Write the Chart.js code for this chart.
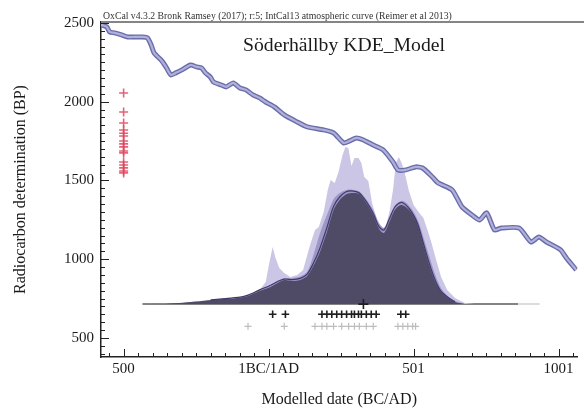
<!DOCTYPE html>
<html><head><meta charset="utf-8">
<script src="https://cdn.jsdelivr.net/npm/chart.js@4.4.1/dist/chart.umd.min.js"></script>
<style>html,body{margin:0;padding:0;background:#fff;}#wrap{width:584px;height:409px;position:relative;}</style>
</head><body><div id="wrap"><canvas id="c" width="584" height="409"></canvas></div>
<script>
// ---- data ----
const headerText = 'OxCal v4.3.2 Bronk Ramsey (2017); r:5; IntCal13 atmospheric curve (Reimer et al 2013)';
const titleText = 'Söderhällby KDE_Model';
const xTickValues = [-500, 0, 500, 1000];
const xTickLabels = ['500', '1BC/1AD', '501', '1001'];
const yTickValues = [500, 1000, 1500, 2000, 2500];
const yTickLabels = ['500', '1000', '1500', '2000', '2500'];

// IntCal13 calibration curve (calendar year, BP)
const calYears = [-578,-575,-558,-548,-531,-507,-486,-463,-435,-418,-405,-395,-371,-354,-337,-320,-299,-269,-248,-231,-218,-201,-190,-163,-146,-122,-99,-78,-54,-31,-10,20,54,99,133,190,224,259,279,303,327,361,395,429,446,473,507,531,565,585,633,667,701,728,752,779,803,864,905,932,959,1007,1027,1061];
const calBP =    [2500,2487,2475,2443,2437,2424,2411,2411,2411,2405,2360,2310,2265,2221,2170,2183,2202,2233,2221,2214,2183,2157,2125,2106,2094,2119,2087,2075,2043,2024,1998,1967,1916,1871,1840,1821,1802,1738,1751,1770,1757,1725,1694,1617,1567,1567,1586,1579,1522,1484,1440,1332,1281,1249,1294,1186,1198,1198,1109,1141,1109,1059,1008,932];

// Summed (unmodelled) probability, light
const lightYears = [-429,-241,-139,-71,-31,-10,3,14,24,37,54,75,99,119,143,160,173,190,204,214,228,241,255,265,275,286,296,310,320,330,344,357,374,391,405,418,429,439,449,459,469,483,500,520,534,548,561,575,595,616,643,677,711];
const lightBP =    [715,722,741,767,805,855,982,1078,1008,944,912,887,900,932,1090,1186,1205,1300,1440,1503,1484,1554,1662,1713,1706,1592,1643,1643,1611,1522,1497,1357,1249,1186,1211,1313,1440,1611,1649,1611,1554,1440,1344,1294,1262,1186,1109,1014,887,805,754,722,715];

// intermediate envelope
const medYears = [-300,-139,-71,-31,7,31,54,82,109,133,150,165,180,201,224,245,269,293,313,337,361,381,398,415,435,456,473,493,514,534,554,575,595,619,643,677];
const medBP =    [715,745,770,808,835,860,880,880,890,920,1000,1090,1180,1280,1380,1420,1440,1440,1430,1380,1310,1230,1200,1260,1340,1370,1360,1320,1250,1140,1020,900,815,765,735,716];

// KDE model distribution, dark
const darkYears = [-412,-310,-197,-139,-105,-71,-31,7,31,54,82,109,133,156,177,201,224,245,269,293,313,337,361,381,398,415,435,456,473,493,514,534,554,575,595,619,643,677];
const darkBP =    [715,722,741,750,754,767,798,824,849,868,862,868,893,963,1046,1173,1313,1376,1414,1420,1414,1357,1281,1192,1167,1230,1313,1344,1332,1294,1217,1090,963,855,792,754,728,716];

// KDE mean line
const meanYears = [-200,-105,-71,-31,7,31,54,82,109,133,156,177,201,224,245,269,293,313,337,361,381,398,415,435,456,473,493,514,534,554,575,595,619,643];
const meanBP =    [742,757,772,805,835,858,874,870,878,905,980,1070,1200,1335,1395,1430,1432,1420,1365,1290,1205,1185,1250,1330,1360,1345,1300,1225,1100,975,865,795,757,730];

// radiocarbon determinations (BP)
const dateBP = [2055,1935,1865,1820,1800,1782,1750,1732,1713,1687,1675,1617,1598,1580,1560,1548];
// modelled dates (black) and unmodelled dates (grey) markers
const modelledYears = [14,58,184,201,218,235,252,269,286,296,310,320,337,354,371,456,473];
const unmodelledYears = [-71,54,160,184,201,224,252,276,296,313,337,361,446,463,480,497,507];
const meanMarkerYear = [327];

const baseBP = 715, modelRowBP = 650, unmodRowBP = 574, dateColYear = -500;

// ---- build ----
const pts = (xs, ys) => xs.map((v, i) => ({x: v, y: ys[i]}));
const FONT = "'Liberation Serif','DejaVu Serif','Times New Roman',serif";

const decor = {
  id: 'decor',
  afterDraw(chart) {
    const {ctx, chartArea: a, scales: {x, y}} = chart;
    ctx.save();
    ctx.strokeStyle = '#222'; ctx.lineWidth = 1;
    ctx.beginPath();
    for (let v = -550; v <= 1050; v += 50) {
      const px = Math.round(x.getPixelForValue(v)) + 0.5;
      if (px < a.left + 1 || px > a.right) continue;
      const L = (v % 500 === 0) ? 8 : 4;
      ctx.moveTo(px, a.bottom); ctx.lineTo(px, a.bottom - L);
    }
    for (let v = 400; v <= 2500; v += 50) {
      const py = Math.round(y.getPixelForValue(v)) + 0.5;
      if (py < a.top + 1 || py > a.bottom - 1) continue;
      const L = (v % 500 === 0) ? 8 : 4;
      ctx.moveTo(a.left, py); ctx.lineTo(a.left + L, py);
    }
    ctx.stroke();
    ctx.strokeStyle = '#858585'; ctx.lineWidth = 2;
    ctx.beginPath(); ctx.moveTo(a.left, a.top); ctx.lineTo(chart.width, a.top); ctx.stroke();
    // header
    ctx.fillStyle = '#333';
    let fs = 10; ctx.font = fs + 'px ' + FONT;
    fs = fs * 349 / ctx.measureText(headerText).width;
    ctx.font = fs + 'px ' + FONT;
    ctx.textBaseline = 'alphabetic'; ctx.textAlign = 'left';
    ctx.fillText(headerText, 103, 19);
    // title
    ctx.fillStyle = '#1a1a1a';
    let ts = 20; ctx.font = ts + 'px ' + FONT;
    ts = ts * 202 / ctx.measureText(titleText).width;
    ctx.font = ts + 'px ' + FONT;
    ctx.textAlign = 'center';
    ctx.fillText(titleText, 344, 51);
    ctx.restore();
  }
};

new Chart(document.getElementById('c'), {
  type: 'scatter',
  data: {
    datasets: [
      {label: 'dates', data: dateBP.map(v => ({x: dateColYear, y: v})), pointStyle: 'cross', pointRadius: 4.5, borderColor: 'rgba(222,70,95,0.85)', borderWidth: 1.6, order: 0},
      {label: 'modelled', data: modelledYears.map(v => ({x: v, y: modelRowBP})), pointStyle: 'cross', pointRadius: 3.8, borderColor: '#1e1e1e', borderWidth: 1.6, order: 0},
      {label: 'unmodelled', data: unmodelledYears.map(v => ({x: v, y: unmodRowBP})), pointStyle: 'cross', pointRadius: 3.5, borderColor: '#bdbdbd', borderWidth: 1.2, order: 0},
      {label: 'mean', data: meanMarkerYear.map(v => ({x: v, y: baseBP})), pointStyle: 'cross', pointRadius: 5, borderColor: '#1e1e1e', borderWidth: 1.6, order: 0},
      {type: 'line', label: 'cal inner', data: pts(calYears, calBP), borderColor: '#b0b1da', borderWidth: 2.2, pointRadius: 0, tension: 0.2, order: 1},
      {type: 'line', label: 'cal edge', data: pts(calYears, calBP), borderColor: '#6b6dab', borderWidth: 5, pointRadius: 0, tension: 0.2, order: 2},
      {type: 'line', label: 'kde mean', data: pts(meanYears, meanBP), borderColor: '#3d3a6c', borderWidth: 1.2, pointRadius: 0, tension: 0.3, order: 3},
      {type: 'line', label: 'kde', data: pts(darkYears, darkBP), borderColor: 'rgba(0,0,0,0)', backgroundColor: '#4f4a66', fill: {value: baseBP}, pointRadius: 0, tension: 0.3, order: 4},
      {type: 'line', label: 'env', data: pts(medYears, medBP), borderColor: 'rgba(0,0,0,0)', backgroundColor: '#9d97c6', fill: {value: baseBP}, pointRadius: 0, tension: 0.3, order: 5},
      {type: 'line', label: 'sum', data: pts(lightYears, lightBP), borderColor: 'rgba(0,0,0,0)', backgroundColor: '#cbc6e5', fill: {value: baseBP}, pointRadius: 0, tension: 0, order: 6},
      {type: 'line', label: 'base', data: [{x: -435, y: baseBP}, {x: 860, y: baseBP}], borderColor: '#5a5a5a', borderWidth: 1.5, pointRadius: 0, order: 7},
      {type: 'line', label: 'base2', data: [{x: 860, y: baseBP}, {x: 935, y: baseBP}], borderColor: '#d0d0d0', borderWidth: 1.5, pointRadius: 0, order: 8}
    ]
  },
  options: {
    responsive: false, animation: false, events: [],
    layout: {padding: {top: 22, left: 0, right: 0, bottom: 0}},
    plugins: {legend: {display: false}, tooltip: {enabled: false}, title: {display: false}},
    scales: {
      x: {
        type: 'linear', min: -578, max: 1065,
        afterBuildTicks: s => { s.ticks = xTickValues.map(v => ({value: v})); },
        afterFit: s => { s.height = 52; },
        ticks: {callback: v => xTickLabels[xTickValues.indexOf(v)], font: {family: FONT, size: 15}, color: '#1a1a1a', padding: 3, maxRotation: 0, autoSkip: false},
        grid: {display: false, drawTicks: false},
        border: {display: true, color: '#222', width: 1.5},
        title: {display: true, text: 'Modelled date (BC/AD)', font: {family: FONT, size: 16}, color: '#1a1a1a', padding: {top: 0, bottom: 0}}
      },
      y: {
        type: 'linear', min: 379, max: 2506,
        afterBuildTicks: s => { s.ticks = yTickValues.map(v => ({value: v})); },
        afterFit: s => { s.width = 101; },
        ticks: {callback: v => yTickLabels[yTickValues.indexOf(v)], font: {family: FONT, size: 15}, color: '#1a1a1a', padding: 7},
        grid: {display: false, drawTicks: false},
        border: {display: true, color: '#222', width: 1.5},
        title: {display: true, text: 'Radiocarbon determination (BP)', font: {family: FONT, size: 16}, color: '#1a1a1a', padding: {top: 11, bottom: 0}}
      }
    }
  },
  plugins: [decor]
});
</script></body></html>
